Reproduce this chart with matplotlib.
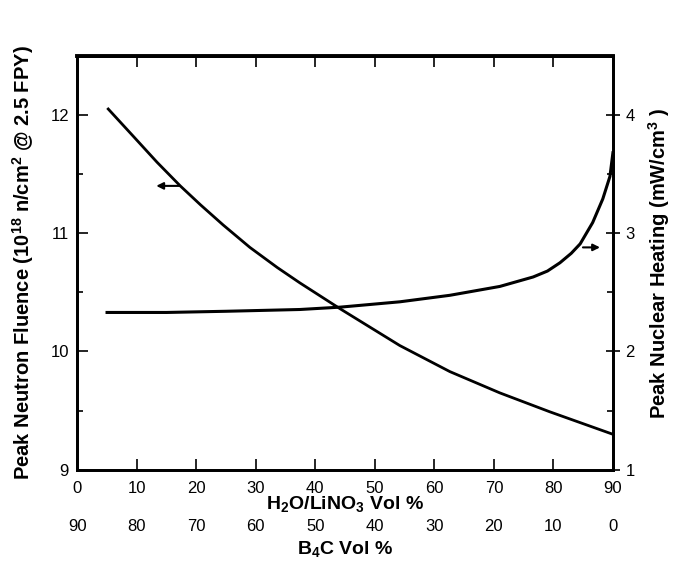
import matplotlib
matplotlib.use("Agg")
import matplotlib.pyplot as plt
import numpy as np
from matplotlib.ticker import MultipleLocator

plt.rcParams['font.family'] = ['Liberation Sans', 'DejaVu Sans']
plt.rcParams['mathtext.fontset'] = 'custom'
plt.rcParams['mathtext.rm'] = 'Liberation Sans:bold'
plt.rcParams['mathtext.bf'] = 'Liberation Sans:bold'

# Peak neutron fluence (left axis), 1e18 n/cm^2
fluence_x = [5.2, 9.4, 13.4, 17.3, 20.7, 24.5, 29.0, 33.6, 37.4, 44.2,
             54.2, 62.6, 71.0, 79.4, 90.0]
fluence_y = [12.05, 11.82, 11.60, 11.40, 11.24, 11.07, 10.88, 10.71, 10.58, 10.36,
             10.05, 9.83, 9.65, 9.49, 9.30]

# Peak nuclear heating (right axis), mW/cm^3
heating_x = [5.0, 15.0, 25.0, 37.4, 44.2, 54.2, 62.6, 71.0, 76.6, 79.0, 81.1,
             83.0, 84.5, 86.6, 88.3, 89.5, 90.0]
heating_y = [2.33, 2.33, 2.34, 2.355, 2.375, 2.42, 2.475, 2.55, 2.63, 2.68, 2.75,
             2.83, 2.91, 3.09, 3.29, 3.48, 3.68]

x_ticks = [0, 10, 20, 30, 40, 50, 60, 70, 80, 90]
b4c_ticks = [90, 80, 70, 60, 50, 40, 30, 20, 10, 0]
left_ticks = [9, 10, 11, 12]
right_ticks = [1, 2, 3, 4]

fig = plt.figure(figsize=(6.78, 5.75), dpi=100)
ax = fig.add_axes([0.114, 0.183, 0.79, 0.72])
ax2 = ax.twinx()

ax.plot(fluence_x, fluence_y, color='black', lw=2.0, solid_joinstyle='round')
ax2.plot(heating_x, heating_y, color='black', lw=2.2, solid_joinstyle='round')

ax.set_xlim(0, 90)
ax.set_ylim(9, 12.5)
ax2.set_ylim(1, 4.5)

ax.set_xticks(x_ticks)
ax.set_xticklabels([str(t) for t in x_ticks])
ax.set_yticks(left_ticks)
ax.yaxis.set_minor_locator(MultipleLocator(0.5))
ax2.set_yticks(right_ticks)
ax2.yaxis.set_minor_locator(MultipleLocator(0.5))

ax.tick_params(axis='x', which='major', direction='in', length=8, width=1.2,
               top=True, labelsize=12, pad=8)
ax.tick_params(axis='y', which='major', direction='in', length=8, width=1.2,
               labelsize=12, pad=6)
ax.tick_params(axis='y', which='minor', direction='in', length=4, width=1.2)
ax2.tick_params(axis='y', which='major', direction='inout', length=10, width=1.2,
                labelsize=12, pad=4)
ax2.tick_params(axis='y', which='minor', direction='in', length=4, width=1.2)

for sp in ax.spines.values():
    sp.set_linewidth(2.0)
ax.spines['top'].set_linewidth(2.8)
for sp in ax2.spines.values():
    sp.set_linewidth(2.0)

ax.set_xlabel(r'H$_2$O/LiNO$_3$ Vol %', fontsize=14, fontweight='bold', labelpad=-1)
ax.set_ylabel(r'Peak Neutron Fluence (10$^{18}$ n/cm$^2$ @ 2.5 FPY)',
              fontsize=14.5, fontweight='bold', labelpad=10)
ax2.set_ylabel(r'Peak Nuclear Heating (mW/cm$^3$ )', fontsize=14.5,
               fontweight='bold', labelpad=8)

sec = ax.secondary_xaxis(-0.112, functions=(lambda x: 90 - x, lambda x: 90 - x))
sec.set_xticks(b4c_ticks)
sec.set_xticklabels([str(t) for t in b4c_ticks])
sec.tick_params(axis='x', length=0, labelsize=12, pad=2)
sec.spines['bottom'].set_visible(False)
sec.set_xlabel(r'B$_4$C Vol %', fontsize=14, fontweight='bold', labelpad=4)

# arrows pointing to each curve's axis
ax.annotate('', xy=(12.8, 11.4), xytext=(17.6, 11.4),
            arrowprops=dict(arrowstyle='-|>', color='black', lw=1.5,
                            mutation_scale=10))
ax2.annotate('', xy=(88.3, 2.88), xytext=(84.5, 2.88),
             arrowprops=dict(arrowstyle='-|>', color='black', lw=1.5,
                             mutation_scale=10))

fig.savefig('out.png', dpi=100)
